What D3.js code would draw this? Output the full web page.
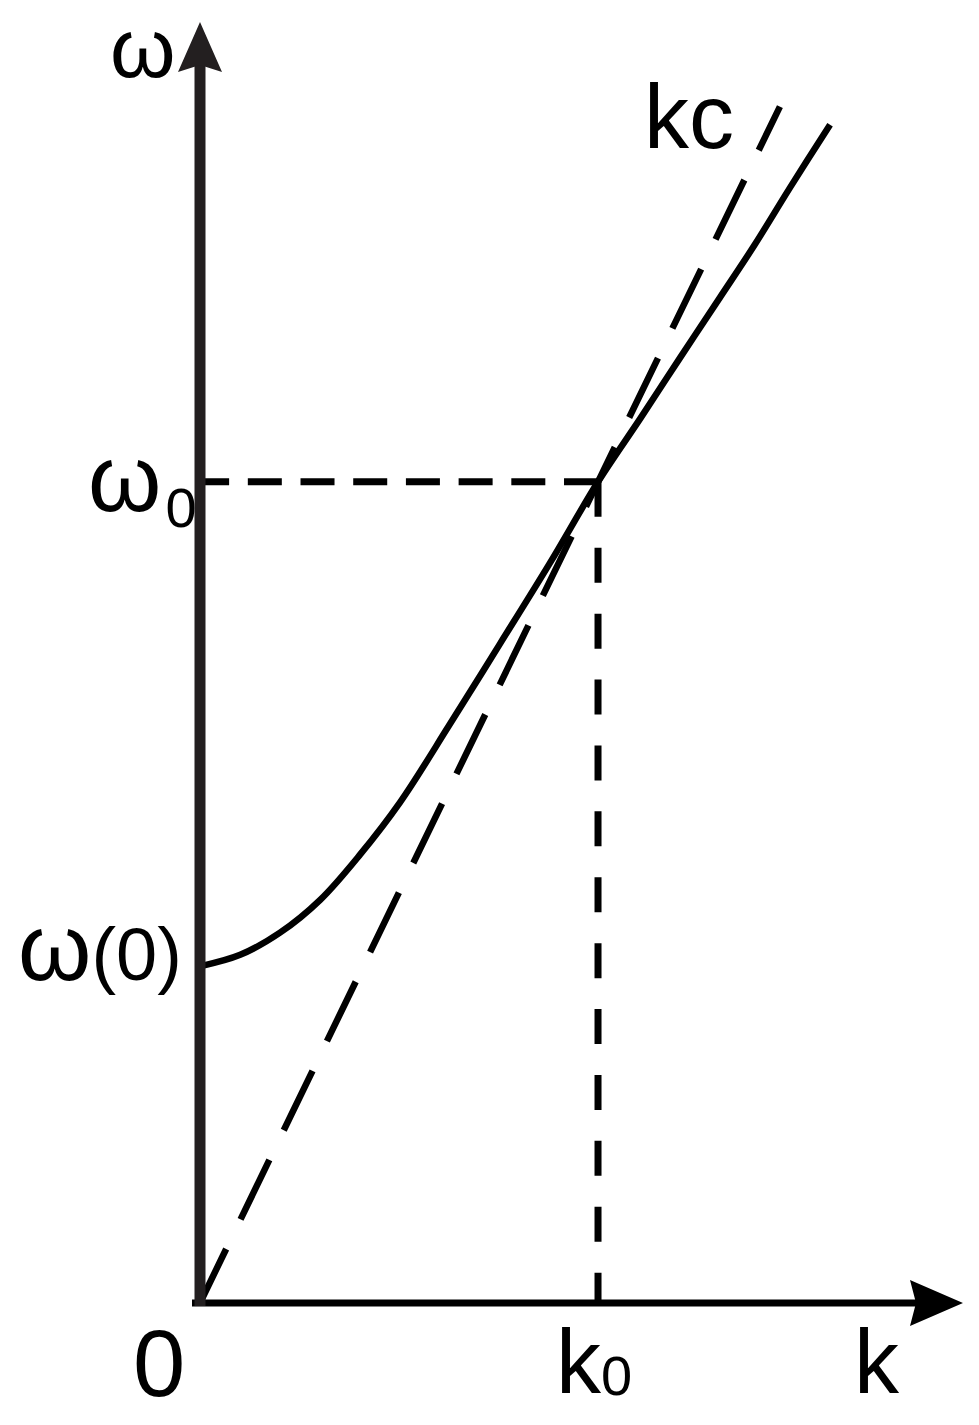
<!DOCTYPE html>
<html>
<head>
<meta charset="UTF-8">
<title>Dispersion</title>
<style>
  body { margin: 0; background: #ffffff; }
  svg { display: block; }
  text { font-family: 'Liberation Sans', Arial, sans-serif; fill: #000; }
</style>
</head>
<body>
<script src="https://cdn.jsdelivr.net/npm/d3@7/dist/d3.min.js"></script>
<script>
// values in units of k0 (horizontal) and omega0 (vertical)
const kMax = 1.917, wMax = 1.56;
const k0 = 1, w0 = 1;
const wAtZero = 0.41;

// dispersion curve omega(k)
const curveK = [0, 0.101, 0.201, 0.302, 0.402, 0.503, 0.628, 0.754, 0.879, 1.0, 1.106, 1.206, 1.307, 1.394, 1.482, 1.583];
const curveW = [0.41, 0.424, 0.451, 0.491, 0.546, 0.610, 0.705, 0.803, 0.901, 1.0, 1.077, 1.151, 1.225, 1.289, 1.358, 1.435];

// light line omega = k c
const kcK = [0, 1.457];

const width = 979, height = 1425;

const svg = d3.select('body').append('svg')
    .attr('width', width)
    .attr('height', height);

const x = d3.scaleLinear().domain([0, kMax]).range([200, 963]);
const y = d3.scaleLinear().domain([0, wMax]).range([1303, 22]);

// kc dashed line
svg.append('line')
    .attr('x1', x(kcK[0])).attr('y1', y(kcK[0]))
    .attr('x2', x(kcK[1])).attr('y2', y(kcK[1]))
    .attr('stroke', '#000')
    .attr('stroke-width', 6.5)
    .attr('stroke-dasharray', '66,33')
    .attr('stroke-dashoffset', 6);

// horizontal dashed at omega0 (drawn from the crossing point leftwards)
svg.append('line')
    .attr('x1', x(k0)).attr('y1', y(w0))
    .attr('x2', x(0)).attr('y2', y(w0))
    .attr('stroke', '#000')
    .attr('stroke-width', 7)
    .attr('stroke-dasharray', '34,18.7');

// vertical dashed at k0
svg.append('line')
    .attr('x1', x(k0)).attr('y1', y(w0))
    .attr('x2', x(k0)).attr('y2', y(0))
    .attr('stroke', '#000')
    .attr('stroke-width', 7)
    .attr('stroke-dasharray', '35,30.9');

// dispersion curve
const line = d3.line()
    .x(d => x(d[0]))
    .y(d => y(d[1]))
    .curve(d3.curveCatmullRom.alpha(0.5));

svg.append('path')
    .datum(curveK.map((k, i) => [k, curveW[i]]))
    .attr('d', line)
    .attr('fill', 'none')
    .attr('stroke', '#000')
    .attr('stroke-width', 6.5);

// axes
svg.append('line')
    .attr('x1', x(0) - 8).attr('y1', y(0))
    .attr('x2', x(kMax) - 40).attr('y2', y(0))
    .attr('stroke', '#000')
    .attr('stroke-width', 7);

svg.append('line')
    .attr('x1', x(0)).attr('y1', y(0) + 3)
    .attr('x2', x(0)).attr('y2', y(wMax) + 40)
    .attr('stroke', '#231f20')
    .attr('stroke-width', 11);

// arrow heads
const xt = x(kMax), yt = y(0);
svg.append('path')
    .attr('d', `M${xt},${yt} L${xt - 53},${yt - 23} L${xt - 47},${yt} L${xt - 53},${yt + 23} Z`)
    .attr('fill', '#000');

const xu = x(0), yu = y(wMax);
svg.append('path')
    .attr('d', `M${xu},${yu} L${xu + 22},${yu + 50} L${xu},${yu + 43} L${xu - 22},${yu + 50} Z`)
    .attr('fill', '#231f20');

// labels
svg.append('text')
    .attr('x', x(0) - 90).attr('y', y(wMax) + 55)
    .attr('font-size', 84)
    .text('ω');

const w0Label = svg.append('text')
    .attr('x', x(0) - 112).attr('y', y(w0) + 29)
    .attr('font-size', 94);
w0Label.append('tspan').text('ω');
w0Label.append('tspan').attr('font-size', 56).attr('dy', 16).attr('dx', 4).text('0');

const wzLabel = svg.append('text')
    .attr('x', x(0) - 182).attr('y', y(wAtZero) + 14)
    .attr('font-size', 94);
wzLabel.append('tspan').text('ω');
wzLabel.append('tspan').attr('font-size', 74).text('(0)');

svg.append('text')
    .attr('x', x(0) - 67).attr('y', y(0) + 93)
    .attr('font-size', 94)
    .text('0');

svg.append('text')
    .attr('x', x(kMax) - 109).attr('y', y(0) + 90)
    .attr('font-size', 90)
    .text('k');

const k0Label = svg.append('text')
    .attr('x', x(k0) - 42).attr('y', y(0) + 90)
    .attr('font-size', 90);
k0Label.append('tspan').text('k');
k0Label.append('tspan').attr('font-size', 56).attr('dy', 2).text('0');

svg.append('text')
    .attr('x', x(kcK[1]) - 136).attr('y', y(kcK[1]) + 41)
    .attr('font-size', 90)
    .text('kc');
</script>
</body>
</html>
